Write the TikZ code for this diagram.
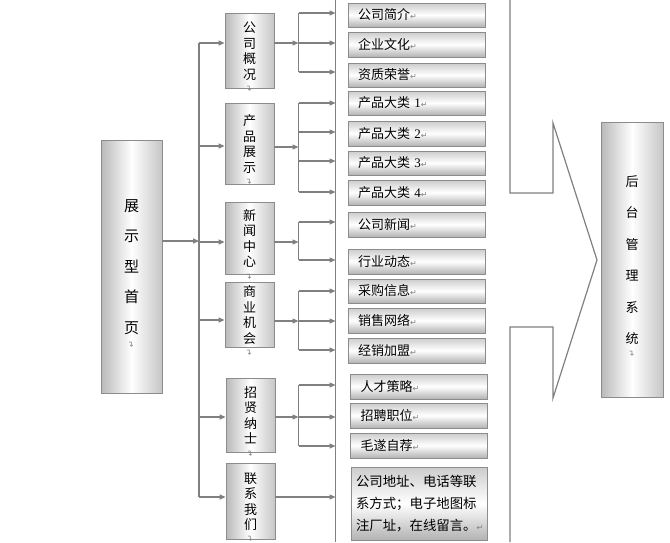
\documentclass[tikz,border=0pt]{standalone}
\usepackage{graphicx}
\usepackage{fontspec}
\newfontfamily\cjk{Noto Sans CJK SC}
\newfontfamily\symf{DejaVu Sans}
\newfontfamily\digf{Liberation Serif}
\usetikzlibrary{arrows.meta}
\definecolor{linegray}{HTML}{808080}
\definecolor{boxedge}{HTML}{8C8C8C}
\newcommand\retm{{\symf\fontsize{8}{8}\selectfont\color{gray}↵}}
\newcommand\vmark[1]{\ooalign{#1\cr\hfil\smash{\raisebox{-0.95em}{\rotatebox{90}{\retm}}}\hfil\cr}}
\begin{document}
\begin{tikzpicture}[x=1pt,y=-1pt,
  conn/.style={draw=linegray, line width=1.2pt},
  arr/.style={conn, -{Triangle[length=6pt,width=5pt]}},
  vbox/.style={draw=boxedge, line width=0.8pt, left color=gray!55, right color=gray!45, middle color=white, inner sep=0pt, align=center},
  leaf/.style={draw=boxedge, line width=0.8pt, top color=gray!40, bottom color=gray!60, middle color=white, minimum height=25pt, inner xsep=10pt, inner ysep=0pt, text width=117pt, align=left, font=\cjk\fontsize{13}{15}\selectfont},
  lvl2/.style={vbox, minimum width=49pt, font=\cjk\fontsize{13}{15.5}\selectfont}
]
\useasboundingbox (0,0) rectangle (670,542);
\fill[white] (0,0) rectangle (670,542);

% main and right boxes
\node[vbox, minimum width=61pt, minimum height=253pt, font=\cjk\fontsize{15}{30.5}\selectfont] (home) at (131.5,266.5) {展\\示\\型\\首\\\vmark{页}};
\node[vbox, minimum width=62pt, minimum height=275pt, font=\cjk\fontsize{13}{31.5}\selectfont] (admin) at (632,259.5) {后\\台\\管\\理\\系\\\vmark{统}};

% second level
\node[lvl2, minimum height=75pt] (s1) at (249.5,50.5) {公\\司\\概\\\vmark{况}};
\node[lvl2, minimum height=81pt] (s2) at (249.5,143.5) {产\\品\\展\\\vmark{示}};
\node[lvl2, minimum height=72pt] (s3) at (249.5,238) {新\\闻\\中\\\vmark{心}};
\node[lvl2, minimum height=65pt] (s4) at (249.5,314.5) {商\\业\\机\\\vmark{会}};
\node[lvl2, minimum height=74pt] (s5) at (250.5,415) {招\\贤\\纳\\\vmark{士}};
\node[lvl2, minimum height=76pt] (s6) at (250.5,501) {联\\系\\我\\\vmark{们}};

% leaves
\node[leaf, minimum height=24pt] (l1) at (416.5,15) {公司简介\retm};
\node[leaf] (l2) at (416.5,44.5) {企业文化\retm};
\node[leaf, minimum height=24pt] (l3) at (416.5,75) {资质荣誉\retm};
\node[leaf, minimum height=24pt] (l4) at (416.5,103) {产品大类 {\digf 1}\retm};
\node[leaf] (l5) at (416.5,133.5) {产品大类 {\digf 2}\retm};
\node[leaf, minimum height=24pt] (l6) at (416.5,163) {产品大类 {\digf 3}\retm};
\node[leaf] (l7) at (416.5,192.5) {产品大类 {\digf 4}\retm};
\node[leaf] (l8) at (416.5,224.5) {公司新闻\retm};
\node[leaf] (l9) at (416.5,261.5) {行业动态\retm};
\node[leaf, minimum height=24pt] (l10) at (416.5,291) {采购信息\retm};
\node[leaf] (l11) at (416.5,320.5) {销售网络\retm};
\node[leaf] (l12) at (416.5,350.5) {经销加盟\retm};
\node[leaf] (l13) at (419,386.5) {人才策略\retm};
\node[leaf] (l14) at (419,415.5) {招聘职位\retm};
\node[leaf] (l15) at (419,445.5) {毛遂自荐\retm};
\node[leaf, minimum height=73pt, inner xsep=5pt, text width=126pt, font=\cjk\fontsize{13.4}{22}\selectfont] (l16) at (419,503.5) {公司地址、电话等联\\系方式；电子地图标\\注厂址，在线留言。\retm};

% main trunk
\coordinate (mj) at (199,241);
\coordinate (ma1) at (199,43);
\coordinate (ma2) at (199,146);
\coordinate (ma3) at (199,242);
\coordinate (ma4) at (199,320);
\coordinate (ma5) at (199,417);
\coordinate (ma6) at (199,497);
\draw[arr] (home.east |- mj) -- (mj);
\draw[conn] (ma1) -- (ma6);
\foreach \i in {1,...,6} {\draw[arr] (ma\i) -- (s\i.west |- ma\i);}

% big bracket line
\coordinate (bt) at (335.5,0);
\coordinate (bb) at (335.5,542);
\draw[conn] (bt) -- (bb);

% group 1
\coordinate (j1a) at (298.5,13);
\coordinate (j1b) at (298.5,43);
\coordinate (j1c) at (298.5,72);
\draw[arr] (s1.east |- j1b) -- (j1b);
\draw[conn] (j1a) -- (j1c);
\foreach \c in {j1a,j1b,j1c} {\draw[arr] (\c) -- (\c -| bt);}

% group 2
\coordinate (j2m) at (298.5,147);
\coordinate (j2a) at (298.5,103);
\coordinate (j2b) at (298.5,132);
\coordinate (j2c) at (298.5,161);
\coordinate (j2d) at (298.5,192);
\draw[arr] (s2.east |- j2m) -- (j2m);
\draw[conn] (j2a) -- (j2d);
\foreach \c in {j2a,j2b,j2c,j2d} {\draw[arr] (\c) -- (\c -| bt);}

% group 3
\coordinate (j3m) at (298.5,242);
\coordinate (j3a) at (298.5,222);
\coordinate (j3b) at (298.5,260);
\draw[arr] (s3.east |- j3m) -- (j3m);
\draw[conn] (j3a) -- (j3b);
\foreach \c in {j3a,j3b} {\draw[arr] (\c) -- (\c -| bt);}

% group 4
\coordinate (j4a) at (298.5,291);
\coordinate (j4b) at (298.5,321);
\coordinate (j4c) at (298.5,350);
\draw[arr] (s4.east |- j4b) -- (j4b);
\draw[conn] (j4a) -- (j4c);
\foreach \c in {j4a,j4b,j4c} {\draw[arr] (\c) -- (\c -| bt);}

% group 5
\coordinate (j5a) at (298.5,385);
\coordinate (j5b) at (298.5,417);
\coordinate (j5c) at (298.5,446);
\draw[arr] (s5.east |- j5b) -- (j5b);
\draw[conn] (j5a) -- (j5c);
\foreach \c in {j5a,j5b,j5c} {\draw[arr] (\c) -- (\c -| bt);}

% group 6
\coordinate (j6) at (335.5,497);
\draw[arr] (s6.east |- j6) -- (j6);

% right outline with arrow notch
\draw[conn, line join=miter] (510,0) -- (510,193) -- (553,193) -- (553,123) -- (597,260) -- (553,398) -- (553,327) -- (510,327) -- (510,542);
\end{tikzpicture}
\end{document}
